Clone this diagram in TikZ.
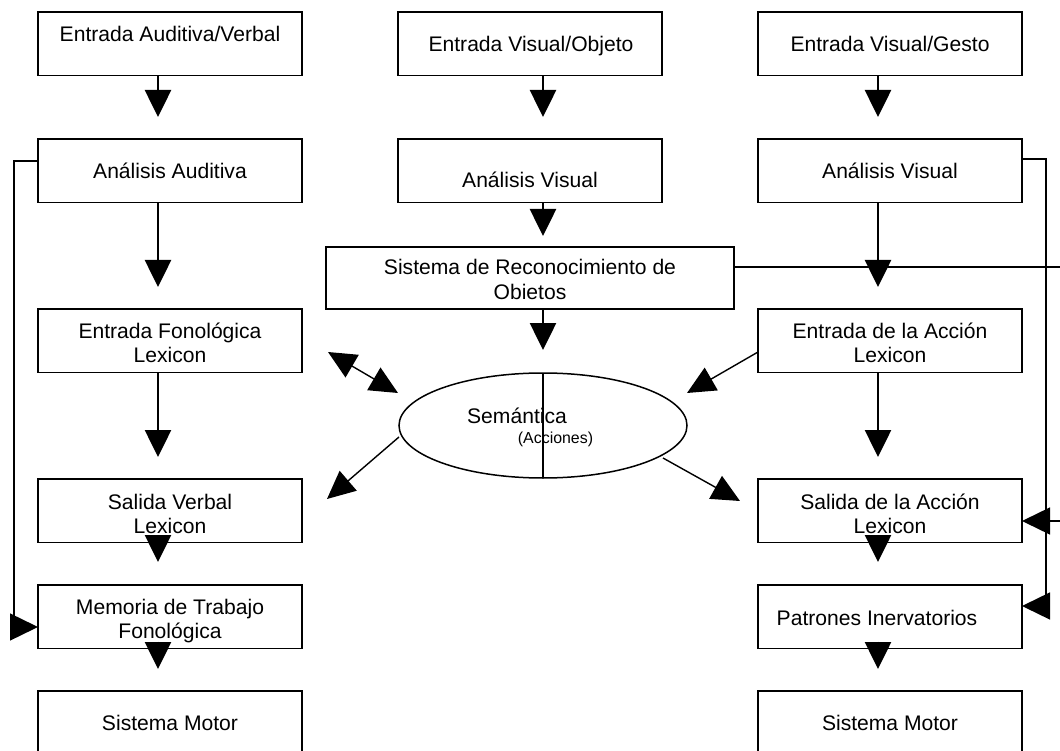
\documentclass[tikz,border=0pt]{standalone}
\usepackage{fontspec}
\setmainfont{Liberation Sans}
\usetikzlibrary{arrows.meta,calc,shapes.geometric}
\begin{document}
\begin{tikzpicture}[x=1pt,y=-1pt,
  box/.style={draw, line width=1.6pt, minimum width=264pt, minimum height=63.5pt, inner sep=0pt, outer sep=0pt, anchor=north west},
  txt/.style={anchor=base, inner sep=0pt, outer sep=0pt, font=\fontsize{21.1}{24}\selectfont, align=center},
  varr/.style={line width=2.6pt, -{Triangle[length=27pt,width=26pt]}},
  thinline/.style={line width=1.4pt},
  harr/.style={line width=1.4pt, line join=miter, -{Triangle[length=28pt,width=27pt]}},
  darr/.style={line width=1.4pt, -{Triangle[length=28pt,width=26pt]}},
]
\useasboundingbox (0,0) rectangle (1060,751);

% left column
\node[box] (eav) at (38,12) {};
\node[box] (aa)  at (38,139) {};
\node[box] (efl) at (38,309) {};
\node[box] (svl) at (38,479) {};
\node[box] (mtf) at (38,585) {};
\node[box] (sml) at (38,691) {};
% middle column
\node[box] (evo) at (398,12) {};
\node[box] (av)  at (398,139) {};
\node[box, minimum width=408pt, minimum height=62pt] (sro) at (326,247) {};
% right column
\node[box] (evg) at (758,12) {};
\node[box] (avr) at (758,139) {};
\node[box] (eal) at (758,309) {};
\node[box] (sal) at (758,479) {};
\node[box] (pin) at (758,585) {};
\node[box] (smr) at (758,691) {};

% ellipse
\node[draw, ellipse, line width=1.5pt, minimum width=288pt, minimum height=105pt, inner sep=0pt, outer sep=0pt] (sem) at (543,425.5) {};
\draw[line width=1.4pt] (sem.north) -- (sem.south);

% texts (anchor base = baseline of the last line)
\node[txt] at (170,42) {Entrada Auditiva/Verbal};
\node[txt] at (170,179) {Análisis Auditiva};
\node[txt] at (170,362) {Entrada Fonológica\\Lexicon};
\node[txt] at (170,533) {Salida Verbal\\Lexicon};
\node[txt] at (170,638) {Memoria de Trabajo\\Fonológica};
\node[txt] at (170,730) {Sistema Motor};
\node[txt] at (531,52) {Entrada Visual/Objeto};
\node[txt] at (530,188) {Análisis Visual};
\node[txt, font=\fontsize{21.1}{25}\selectfont] at (530,300) {Sistema de Reconocimiento de\\Obietos};
\node[txt] at (890,52) {Entrada Visual/Gesto};
\node[txt] at (890,179) {Análisis Visual};
\node[txt] at (890,362) {Entrada de la Acción\\Lexicon};
\node[txt] at (890,533) {Salida de la Acción\\Lexicon};
\node[txt] at (877,625) {Patrones Inervatorios};
\node[txt] at (890,730) {Sistema Motor};
\node[txt] at (517,423) {Semántica};
\node[txt, font=\fontsize{15.9}{18}\selectfont] at (555.5,443) {(Acciones)};

% vertical arrows, left
\draw[varr] ($(eav.south west)+(120,0)$) -- ($(aa.north west)+(120,-22)$);
\draw[varr] ($(aa.south west)+(120,0)$) -- ($(efl.north west)+(120,-22)$);
\draw[varr] ($(efl.south west)+(120,0)$) -- ($(svl.north west)+(120,-22)$);
\draw[varr] ($(svl.south west)+(120,-7)$) -- ($(mtf.north west)+(120,-23)$);
\draw[varr] ($(mtf.south west)+(120,-7)$) -- ($(sml.north west)+(120,-22)$);
% vertical arrows, middle
\draw[varr] ($(evo.south west)+(145,0)$) -- ($(av.north west)+(145,-22)$);
\draw[varr] ($(av.south west)+(145,0)$) -- ($(sro.north)+(13,-11)$);
\draw[varr] ($(sro.south)+(13,0)$) -- ($(sem.north)+(0,-23)$);
% vertical arrows, right
\draw[varr] ($(evg.south west)+(120,0)$) -- ($(avr.north west)+(120,-22)$);
\draw[varr] ($(avr.south west)+(120,0)$) -- ($(eal.north west)+(120,-22)$);
\draw[varr] ($(eal.south west)+(120,0)$) -- ($(sal.north west)+(120,-22)$);
\draw[varr] ($(sal.south west)+(120,-7)$) -- ($(pin.north west)+(120,-23)$);
\draw[varr] ($(pin.south west)+(120,-7)$) -- ($(smr.north west)+(120,-22)$);

% left feedback
\coordinate (lv1) at (14,161);
\coordinate (lv2) at (14,627);
\draw[harr] (aa.north west |- lv1) -- (lv1) -- (lv2) -- (mtf.north west |- lv2);

% right feedback
\coordinate (rv1) at (1046,159);
\coordinate (rv2) at (1046,606);
\draw[harr] (avr.north east |- rv1) -- (rv1) -- (rv2) -- (pin.north east |- rv2);

% Sistema line off to the right and back
\coordinate (re1) at (1060,267);
\coordinate (re2) at (1060,521);
\draw[thinline] (sro.north east |- re1) -- (re1);
\draw[harr] (re2) -- (sal.north east |- re2);

% diagonal arrows
\coordinate (d1) at (328,352);
\coordinate (d2) at (398,393);
\draw[line width=1.4pt, {Triangle[length=28pt,width=26pt]}-{Triangle[length=28pt,width=26pt]}] (d1) -- (d2);
\coordinate (e2) at (687,393);
\draw[darr] ($(eal.north west)+(0,43)$) -- (e2);
\coordinate (s1) at (399,437);
\coordinate (s2) at (327,499);
\draw[darr] (s1) -- (s2);
\coordinate (s3) at (663,458);
\coordinate (s4) at (740,501);
\draw[darr] (s3) -- (s4);
\end{tikzpicture}
\end{document}
